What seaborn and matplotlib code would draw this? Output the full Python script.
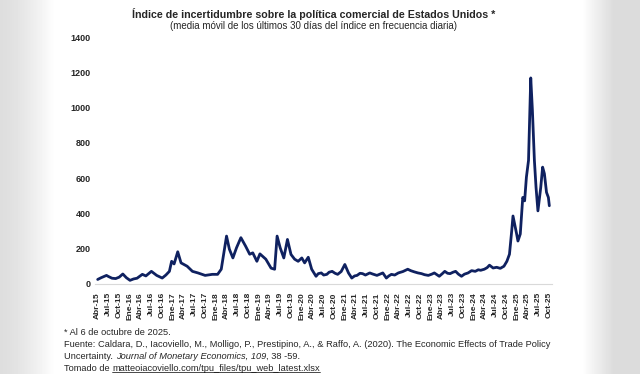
#Importing packages
import pandas as pd
import numpy as np
import matplotlib.pyplot as plt
from matplotlib.lines import Line2D
import seaborn as sns

#Data (30-day moving average of the TPU index)
fechas = ['2015-04-01', '2015-05-01', '2015-06-15', '2015-07-01', '2015-08-01', '2015-09-01',
          '2015-10-01', '2015-11-01', '2015-12-01', '2016-01-01', '2016-02-01', '2016-03-01',
          '2016-04-15', '2016-05-15', '2016-07-01', '2016-08-15', '2016-10-01', '2016-11-01',
          '2016-12-01', '2016-12-20', '2017-01-10', '2017-02-10', '2017-03-10', '2017-05-01',
          '2017-06-15', '2017-08-01', '2017-10-01', '2017-12-01', '2018-01-15', '2018-02-15',
          '2018-03-15', '2018-04-01', '2018-04-25', '2018-05-25', '2018-06-25', '2018-08-01',
          '2018-09-10', '2018-10-15', '2018-11-10', '2018-12-15', '2019-01-10', '2019-03-01',
          '2019-04-15', '2019-05-15', '2019-06-05', '2019-07-01', '2019-08-01', '2019-09-01',
          '2019-10-01', '2019-11-01', '2019-12-01', '2020-01-01', '2020-01-25', '2020-02-25',
          '2020-03-25', '2020-05-01', '2020-05-20', '2020-06-15', '2020-07-05', '2020-08-01',
          '2020-08-20', '2020-09-15', '2020-10-10', '2020-11-01',
          '2020-12-01', '2021-01-01', '2021-02-01', '2021-03-01', '2021-03-25', '2021-04-15',
          '2021-05-10', '2021-06-01', '2021-06-25', '2021-08-01', '2021-08-25', '2021-10-01',
          '2021-10-25', '2021-11-20', '2021-12-20', '2022-01-10', '2022-02-01', '2022-03-01',
          '2022-04-01', '2022-05-10', '2022-06-20', '2022-07-15', '2022-08-15', '2022-09-15',
          '2022-10-15', '2022-11-10', '2022-12-12', '2023-01-10', '2023-02-01', '2023-03-15',
          '2023-04-10', '2023-05-01', '2023-05-25', '2023-06-15', '2023-07-10', '2023-08-01',
          '2023-08-25', '2023-09-20', '2023-10-15', '2023-11-15', '2023-12-15', '2024-01-15',
          '2024-02-10', '2024-03-01', '2024-04-01', '2024-04-25', '2024-05-15', '2024-06-15',
          '2024-07-15', '2024-08-15', '2024-09-15', '2024-10-10',
          '2024-11-01', '2024-11-20', '2024-12-01', '2025-01-01', '2025-01-12', '2025-02-01',
          '2025-02-22', '2025-03-10', '2025-03-25', '2025-04-12', '2025-05-01', '2025-05-15',
          '2025-06-01', '2025-06-15', '2025-07-01', '2025-07-25', '2025-08-10', '2025-08-25',
          '2025-09-12', '2025-09-28', '2025-10-06']
valores = [25, 35, 48, 42, 32, 30,
           38, 56, 35, 20, 28, 32,
           54, 45, 71, 48, 33, 50,
           71, 128, 113, 182, 119, 100,
           71, 62, 48, 54, 54, 83,
           200, 271, 197, 147, 205, 262,
           214, 168, 176, 128, 170, 140,
           89, 83, 271, 205, 147, 252,
           167, 140, 128, 147, 119, 151,
           83, 43, 58, 62, 50, 54,
           66, 71, 60, 54,
           70, 110, 62, 33, 45, 48,
           60, 58, 50, 62, 56, 48,
           55, 62, 33, 45, 54, 50,
           62, 70, 83, 75, 68, 62,
           58, 52, 48, 55, 62, 43,
           58, 71, 60, 58, 66, 71,
           55, 43, 55, 62, 75, 71,
           80, 77, 83, 92, 106, 90,
           94, 88, 100, 128,
           168, 300, 385, 283, 243, 283,
           490, 471, 605, 700, 1168, 985,
           700, 547, 414, 547, 662, 625,
           519, 490, 443]

#Tick labels (quarterly, Spanish month abbreviations)
meses_es = {1: 'Ene', 4: 'Abr', 7: 'Jul', 10: 'Oct'}

titulo = 'Índice de incertidumbre sobre la política comercial de Estados Unidos *'
subtitulo = '(media móvil de los últimos 30 días del índice en frecuencia diaria)'

df = pd.DataFrame({'fecha': pd.to_datetime(fechas), 'tpu': valores})

sns.set_style('white')
plt.rcParams['font.family'] = ['Liberation Sans', 'DejaVu Sans']

fig = plt.figure(figsize=(6.4, 3.74), dpi=100)

#grey screenshot edges
bg = fig.add_axes([0, 0, 1, 1], zorder=-5)
xs = np.linspace(0, 1, 640)
prof = np.ones_like(xs)
prof = np.where(xs < 0.085, 0.87 + 0.13 * (xs / 0.085) ** 1.5, prof)
prof = np.where(xs > 0.91, 1 - 0.14 * np.clip((xs - 0.91) / 0.05, 0, 1), prof)
bg.imshow(np.tile(prof, (10, 1)), cmap='gray', vmin=0, vmax=1, aspect='auto', extent=[0, 1, 0, 1])
bg.axis('off')

ax = fig.add_axes([0.148, 0.241, 0.714, 0.66])
ax.patch.set_alpha(0)
sns.lineplot(data=df, x='fecha', y='tpu', ax=ax, color='#0f2160', linewidth=2)

ax.set_ylim(0, 1400)
ax.set_yticks(range(0, 1401, 200))
ax.set_xlim(pd.Timestamp('2015-03-07'), pd.Timestamp('2025-10-26'))
ticks = pd.date_range('2015-04-01', '2025-10-01', freq='3MS')
ax.set_xticks(ticks)
ax.set_xticklabels([f"{meses_es[t.month]}-{t.strftime('%y')}" for t in ticks],
                   rotation=90, fontsize=6, fontweight='bold')
for lab in ax.get_yticklabels():
    lab.set_fontsize(6.5)
    lab.set_fontweight('bold')
ax.set_xlabel('')
ax.set_ylabel('')
ax.tick_params(axis='y', length=0, pad=3)
ax.tick_params(axis='x', length=4, color='#d9d9d9', width=0.8, pad=2)
for s in ['top', 'right', 'left']:
    ax.spines[s].set_visible(False)
ax.spines['bottom'].set_color('#d9d9d9')
ax.spines['bottom'].set_linewidth(0.8)

#title and subtitle
fig.text(0.49, 0.978, titulo, ha='center', va='top', fontsize=7.7, fontweight='bold')
fig.text(0.49, 0.945, subtitulo, ha='center', va='top', fontsize=7)

#footnotes
fs = 6.7
fig.text(0.1, 0.105, '* Al 6 de octubre de 2025.', fontsize=fs, va='baseline')
fig.text(0.1, 0.072, 'Fuente: Caldara, D., Iacoviello, M., Molligo, P., Prestipino, A., & Raffo, A. (2020). '
         'The Economic Effects of Trade Policy', fontsize=fs, va='baseline')
t1 = fig.text(0.1, 0.041, 'Uncertainty. ', fontsize=fs, va='baseline')
t2 = ax.annotate('Journal of Monetary Economics, 109', xy=(1, 0), xycoords=t1, va='bottom',
                 fontsize=fs, style='italic', annotation_clip=False)
t3 = ax.annotate(', 38 -59.', xy=(1, 0), xycoords=t2, va='bottom', fontsize=fs, annotation_clip=False)
t4 = fig.text(0.1, 0.009, 'Tomado de ', fontsize=fs, va='baseline')
t5 = ax.annotate('matteoiacoviello.com/tpu_files/tpu_web_latest.xlsx', xy=(1, 0), xycoords=t4,
                 va='bottom', fontsize=fs, annotation_clip=False)

#underline the link
fig.canvas.draw()
bb = t5.get_window_extent().transformed(fig.transFigure.inverted())
fig.add_artist(Line2D([bb.x0, bb.x1], [bb.y0 + 0.002, bb.y0 + 0.002], color='black', linewidth=0.5,
                      transform=fig.transFigure))

plt.savefig('out.png', dpi=100)
